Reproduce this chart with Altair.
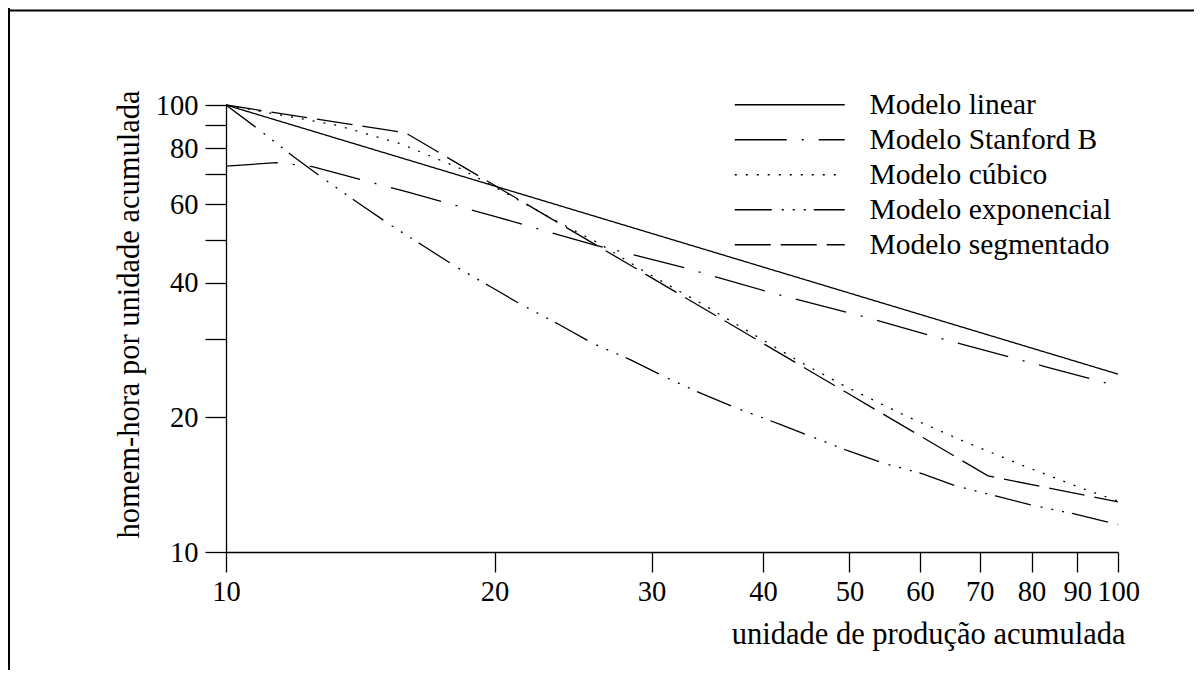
import altair as alt
import pandas as pd

FONT = "Liberation Serif"

models = ["Modelo linear", "Modelo Stanford B", "Modelo cúbico",
          "Modelo exponencial", "Modelo segmentado"]

linear_x = [10, 100]
linear_y = [100, 25]

stanford_x = [10, 11.4, 12.5, 16, 20.1, 25.8, 32.3, 40.7, 51.6, 65.4, 82.8, 100]
stanford_y = [73, 74.3, 72.8, 63.8, 56.2, 48.7, 43.5, 38.1, 33.7, 29.5, 26, 23.5]

cubic_x = [10, 13.3, 15.7, 18.3, 21.0, 23.3, 26.2, 29.4, 34.0, 39.2, 44.2, 49.4,
           57.7, 67.1, 78.3, 91.4, 100]
cubic_y = [100, 90.1, 81.9, 72.1, 62.2, 55.4, 49.0, 42.5, 36.1, 30.5, 26.5, 23.5,
           20.2, 17.7, 15.6, 13.85, 13.0]

exp_x = [10, 10.97, 11.95, 12.91, 14.11, 15.27, 16.67, 18.06, 19.8, 21.36, 23.68,
         25.77, 28.42, 30.97, 34.15, 37.31, 41.8, 49.6, 54.6, 60.4, 65.9, 73.1,
         80.4, 89.1, 100]
exp_y = [100, 87.1, 76.2, 68.1, 60.1, 54.0, 48.3, 43.6, 39.2, 35.9, 32.2, 29.3,
         26.9, 24.7, 22.6, 21.0, 19.3, 16.9, 15.8, 14.96, 14.04, 13.33, 12.71,
         12.18, 11.52]

seg_x = [10, 15.9, 71.5, 100]
seg_y = [100, 86.6, 14.8, 12.95]

x_ticks = [10, 20, 30, 40, 50, 60, 70, 80, 90, 100]
y_ticks = [10, 20, 30, 40, 50, 60, 70, 80, 90, 100]
y_labeled = [10, 20, 40, 60, 80, 100]

dashes = [[1, 0], [52, 15, 2, 15], [2, 9], [37, 10, 2, 9, 2, 9, 2, 8], [36, 10]]

series = [linear_x, stanford_x, cubic_x, exp_x, seg_x]
values = [linear_y, stanford_y, cubic_y, exp_y, seg_y]
rows = []
for name, xs, ys in zip(models, series, values):
    for i, (xv, yv) in enumerate(zip(xs, ys)):
        rows.append({"modelo": name, "x": xv, "y": yv, "ord": i})
df = pd.DataFrame(rows)

legend = alt.Legend(
    title=None, orient="none", legendX=549, legendY=-15,
    symbolType="M-5,0H5", symbolSize=484, symbolStrokeWidth=1.3,
    symbolStrokeColor="black", symbolFillColor="transparent",
    labelFont=FONT, labelFontSize=29.5,
    labelColor="black", labelOffset=65, rowPadding=4, padding=0, labelLimit=500,
)

lines = alt.Chart(df).mark_line(strokeWidth=1.3, color="black").encode(
    x=alt.X("x:Q", scale=alt.Scale(type="log", domain=[10, 100], nice=False),
            axis=alt.Axis(values=x_ticks, format="d", tickSize=20, labelPadding=5,
                          labelFont=FONT, labelFontSize=28.5, labelColor="black",
                          labelOverlap=False, labelFlush=False, labelAngle=0,
                          domainColor="black", tickColor="black", domainWidth=1.3,
                          tickWidth=1.3, grid=False,
                          title="unidade de produção acumulada", titleFont=FONT,
                          titleFontSize=30.5, titleFontWeight="normal",
                          titleColor="black", titleX=899, titleY=91.5,
                          titleAlign="right", titleBaseline="alphabetic")),
    y=alt.Y("y:Q", scale=alt.Scale(type="log", domain=[10, 100], nice=False),
            axis=alt.Axis(values=y_ticks, format="d", tickSize=21, labelPadding=7,
                          labelExpr="indexof(" + str(y_labeled) + ", datum.value) >= 0 ? datum.label : ''",
                          labelFont=FONT, labelFontSize=28.5, labelColor="black",
                          labelOverlap=False, labelFlush=False,
                          domainColor="black", tickColor="black", domainWidth=1.3,
                          tickWidth=1.3, grid=False,
                          title="homem-hora por unidade acumulada", titleFont=FONT,
                          titleFontSize=30.5, titleFontWeight="normal",
                          titleColor="black", titleX=-82, titleY=209,
                          titleAngle=270, titleAlign="center", titleBaseline="bottom")),
    strokeDash=alt.StrokeDash("modelo:N", scale=alt.Scale(domain=models, range=dashes),
                              legend=legend),
    order="ord:Q",
)

frame_df = pd.DataFrame({"k": [0]})
top_border = alt.Chart(frame_df).mark_rule(strokeWidth=2, color="black").encode(
    x=alt.value(-220), x2=alt.value(1000), y=alt.value(-94.5))
left_border = alt.Chart(frame_df).mark_rule(strokeWidth=2, color="black").encode(
    x=alt.value(-217), y=alt.value(-100), y2=alt.value(700))

chart = alt.layer(lines, top_border, left_border).properties(
    width=892, height=447,
    background="white",
    autosize=alt.AutoSizeParams(type="none"),
    padding={"left": 218, "top": 97, "right": 76, "bottom": 118},
).configure_view(strokeWidth=0, stroke="transparent")

chart.save("out.html", embed_options={"renderer": "svg", "actions": False})
